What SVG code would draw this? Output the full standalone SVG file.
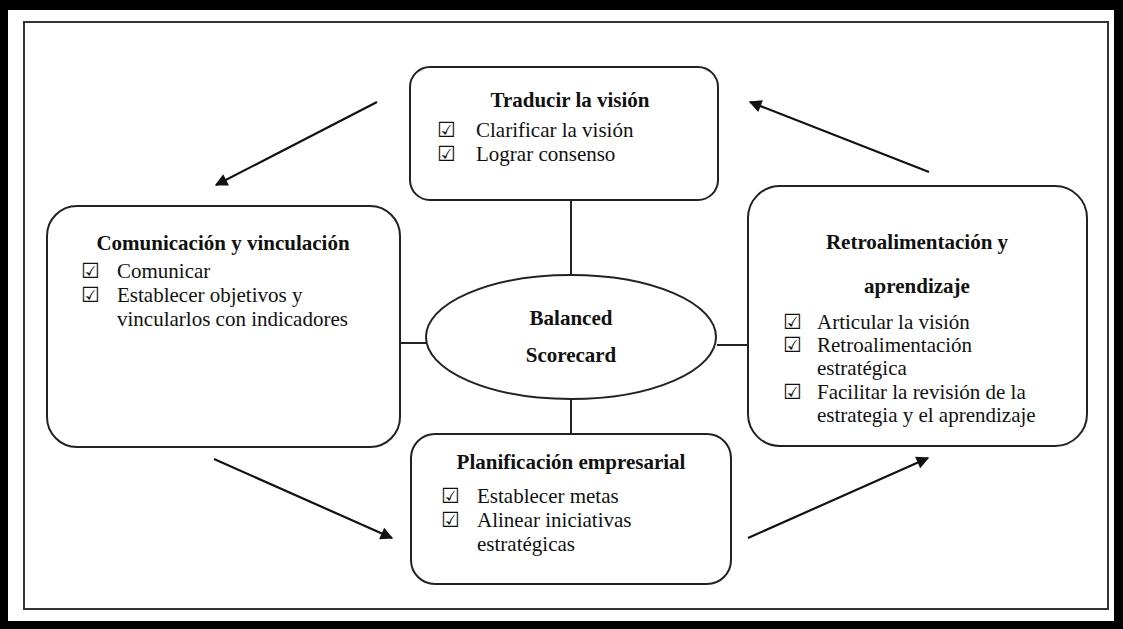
<svg xmlns="http://www.w3.org/2000/svg" width="1123" height="629" viewBox="0 0 1123 629">
  <style>
    .box { fill: #fff; stroke: #222; stroke-width: 2; }
    .link { stroke: #222; stroke-width: 2; fill: none; }
    .flow { stroke: #111; stroke-width: 2.2; fill: none; marker-end: url(#head); }
    .title { font-family: "Liberation Serif", "Times New Roman", serif; font-size: 21px; font-weight: bold; fill: #111; text-anchor: middle; }
    .item { font-family: "Liberation Serif", "Times New Roman", serif; font-size: 21px; fill: #111; }
    .chk { font-family: "DejaVu Sans", sans-serif; font-size: 21px; font-weight: bold; fill: #111; }
  </style>
  <defs>
    <marker id="head" viewBox="0 0 10 10" refX="9" refY="5" markerWidth="8" markerHeight="7" markerUnits="userSpaceOnUse" orient="auto" overflow="visible">
      <path d="M0,0 L10,5 L0,10 z" fill="#111" transform="scale(1.8)" transform-origin="9 5"/>
    </marker>
  </defs>

  <!-- page and frame -->
  <rect x="0" y="0" width="1123" height="629" fill="#000"/>
  <rect x="8" y="10" width="1106" height="611" fill="#fff"/>
  <rect x="24" y="22" width="1084" height="587" fill="none" stroke="#333" stroke-width="2"/>

  <!-- spokes and cycle arrows -->
  <g id="connectors">
    <line class="link" x1="571" y1="200" x2="571" y2="275"/>
    <line class="link" x1="571" y1="400" x2="571" y2="434"/>
    <line class="link" x1="400" y1="343" x2="426" y2="343"/>
    <line class="link" x1="717" y1="345" x2="748" y2="345"/>
    <line class="flow" x1="377" y1="102" x2="216" y2="185"/>
    <line class="flow" x1="929" y1="172" x2="750" y2="102"/>
    <line class="flow" x1="214" y1="459" x2="392" y2="538"/>
    <line class="flow" x1="748" y1="538" x2="928" y2="458"/>
  </g>

  <g id="traducir">
    <rect class="box" x="410" y="67" width="308" height="133" rx="20"/>
    <text class="title" x="570" y="107">Traducir la visión</text>
    <text class="chk" x="437" y="137">☑</text>
    <text class="item" x="476" y="137">Clarificar la visión</text>
    <text class="chk" x="437" y="161">☑</text>
    <text class="item" x="476" y="161">Lograr consenso</text>
  </g>

  <g id="comunicacion">
    <rect class="box" x="47" y="206" width="353" height="241" rx="30"/>
    <text class="title" x="223" y="250">Comunicación y vinculación</text>
    <text class="chk" x="81" y="278">☑</text>
    <text class="item" x="117" y="278">Comunicar</text>
    <text class="chk" x="81" y="302">☑</text>
    <text class="item" x="117" y="302">Establecer objetivos y</text>
    <text class="item" x="117" y="326">vincularlos con indicadores</text>
  </g>

  <g id="balanced">
    <ellipse class="box" cx="571" cy="337" rx="145" ry="62"/>
    <text class="title" x="571" y="325">Balanced</text>
    <text class="title" x="571" y="362">Scorecard</text>
  </g>

  <g id="retroalimentacion">
    <rect class="box" x="748" y="186" width="339" height="260" rx="32"/>
    <text class="title" x="917" y="249">Retroalimentación y</text>
    <text class="title" x="917" y="293">aprendizaje</text>
    <text class="chk" x="783" y="329">☑</text>
    <text class="item" x="817" y="329">Articular la visión</text>
    <text class="chk" x="783" y="352">☑</text>
    <text class="item" x="817" y="352">Retroalimentación</text>
    <text class="item" x="817" y="375">estratégica</text>
    <text class="chk" x="783" y="399">☑</text>
    <text class="item" x="817" y="399">Facilitar la revisión de la</text>
    <text class="item" x="817" y="422">estrategia y el aprendizaje</text>
  </g>

  <g id="planificacion">
    <rect class="box" x="411" y="434" width="320" height="150" rx="24"/>
    <text class="title" x="571" y="469">Planificación empresarial</text>
    <text class="chk" x="441" y="503">☑</text>
    <text class="item" x="477" y="503">Establecer metas</text>
    <text class="chk" x="441" y="527">☑</text>
    <text class="item" x="477" y="527">Alinear iniciativas</text>
    <text class="item" x="477" y="551">estratégicas</text>
  </g>
</svg>
